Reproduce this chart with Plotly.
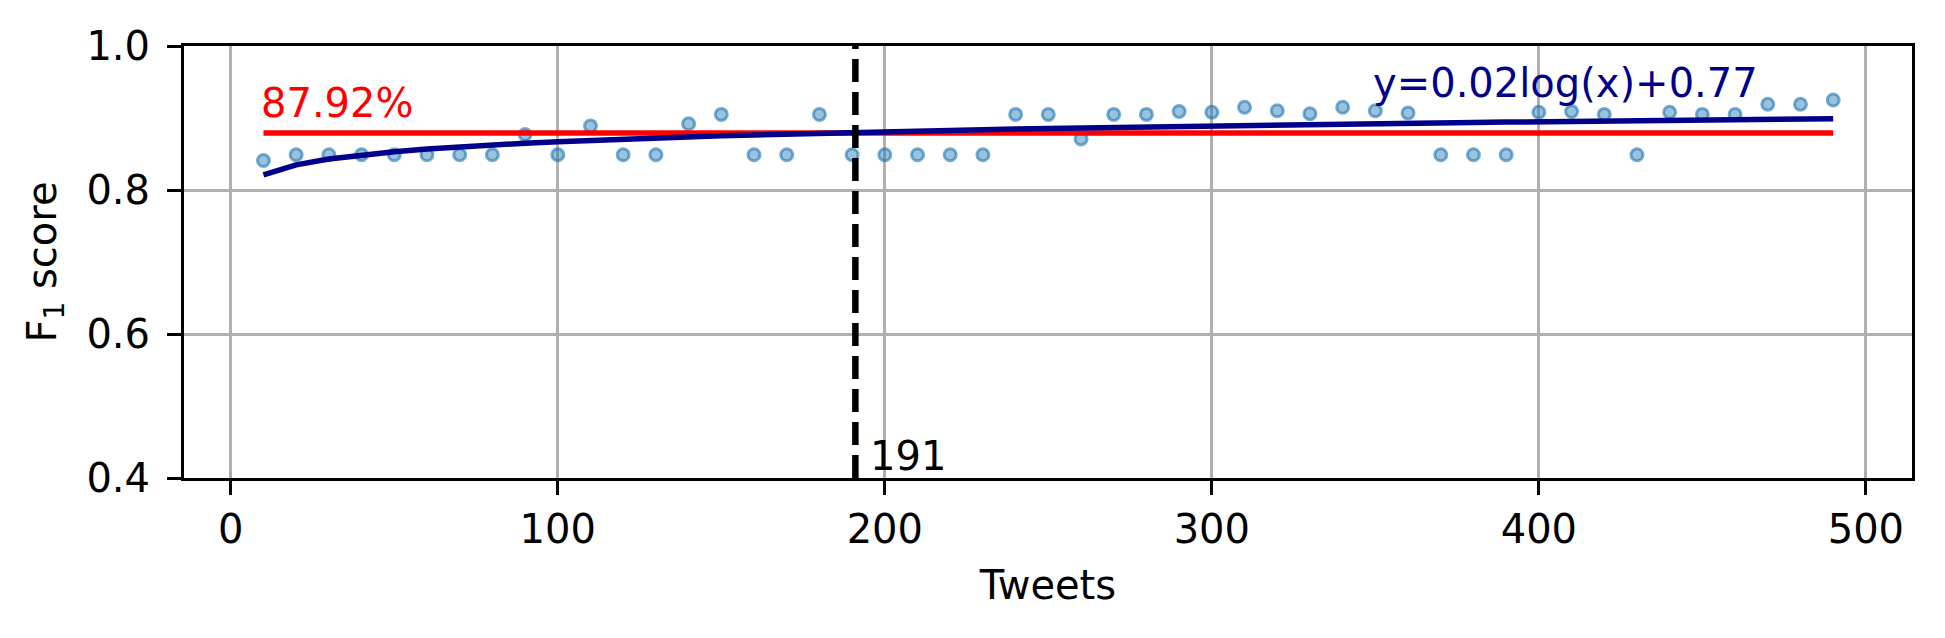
import plotly.graph_objects as go
import numpy as np

tweets = [10, 20, 30, 40, 50, 60, 70, 80, 90, 100,
          110, 120, 130, 140, 150, 160, 170, 180, 190, 200,
          210, 220, 230, 240, 250, 260, 270, 280, 290, 300,
          310, 320, 330, 340, 350, 360, 370, 380, 390, 400,
          410, 420, 430, 440, 450, 460, 470, 480, 490]
f1_scores = [0.841, 0.849, 0.849, 0.849, 0.849, 0.849, 0.849, 0.849, 0.877, 0.849,
             0.889, 0.849, 0.849, 0.892, 0.905, 0.849, 0.849, 0.905, 0.849, 0.849,
             0.849, 0.849, 0.849, 0.905, 0.905, 0.871, 0.905, 0.905, 0.909, 0.908,
             0.915, 0.910, 0.906, 0.915, 0.910, 0.907, 0.849, 0.849, 0.849, 0.908,
             0.909, 0.905, 0.849, 0.908, 0.905, 0.905, 0.919, 0.919, 0.925]
mean_f1 = 0.8792
mean_label = "87.92%"
threshold = 191
fit_a = 0.0200
fit_b = 0.775
fit_label = "y=0.02log(x)+0.77"

x_arr = np.array(tweets, dtype=float)
fit_y = fit_a * np.log(x_arr) + fit_b

FONT = "DejaVu Sans"
FS = 40

fig = go.Figure()

fig.add_trace(go.Scatter(
    x=tweets, y=f1_scores, mode="markers",
    marker=dict(size=12, color="rgba(31,119,180,0.45)",
                line=dict(color="rgba(31,119,180,0.6)", width=3)),
    showlegend=False))

fig.add_trace(go.Scatter(
    x=[tweets[0], tweets[-1]], y=[mean_f1, mean_f1], mode="lines",
    line=dict(color="#FF0000", width=5.5), showlegend=False))

fig.add_trace(go.Scatter(
    x=tweets, y=fit_y, mode="lines",
    line=dict(color="#00008B", width=5.5), showlegend=False))

fig.add_trace(go.Scatter(
    x=[threshold, threshold], y=[0.4, 1.0], mode="lines",
    line=dict(color="black", width=6.5, dash="23px,10px"), showlegend=False))

fig.add_annotation(x=tweets[0], y=0.9, text=mean_label, showarrow=False,
                   xanchor="left", yanchor="bottom", yshift=-10, xshift=-4,
                   font=dict(family=FONT, size=FS, color="#FF0000"))
fig.add_annotation(x=350, y=0.925, text=fit_label, showarrow=False,
                   xanchor="left", yanchor="bottom", yshift=-8, xshift=-4,
                   font=dict(family=FONT, size=FS, color="#00008B"))
fig.add_annotation(x=threshold + 5, y=0.41, text=str(threshold), showarrow=False,
                   xanchor="left", yanchor="bottom", yshift=-10, xshift=-4,
                   font=dict(family=FONT, size=FS, color="black"))

axis_common = dict(
    showline=True, linecolor="black", linewidth=3, mirror=True,
    ticks="outside", ticklen=14, tickwidth=3, tickcolor="black",
    showgrid=True, gridcolor="#b0b0b0", gridwidth=3,
    zeroline=False, automargin=False,
    tickfont=dict(family=FONT, size=FS, color="black"),
)

fig.update_xaxes(range=[-14.3, 514.1], tickvals=[0, 100, 200, 300, 400, 500],
                 title=dict(text="Tweets", font=dict(family=FONT, size=FS, color="black"), standoff=20),
                 **axis_common)
fig.update_yaxes(range=[0.4, 1.0], tickvals=[0.4, 0.6, 0.8, 1.0],
                 ticktext=["0.4", "0.6", "0.8", "1.0"], ticklabelstandoff=9,
                 title=dict(text="F<sub>1</sub> score", font=dict(family=FONT, size=FS, color="black"), standoff=18),
                 **axis_common)

fig.update_layout(
    width=1945, height=638,
    margin=dict(l=184, r=33, t=46, b=160),
    plot_bgcolor="white", paper_bgcolor="white",
    font=dict(family=FONT, size=FS, color="black"),
)

fig.write_html("out.html", config={"displayModeBar": False},
               post_script="document.body.style.margin='0';document.body.style.overflow='hidden';")
